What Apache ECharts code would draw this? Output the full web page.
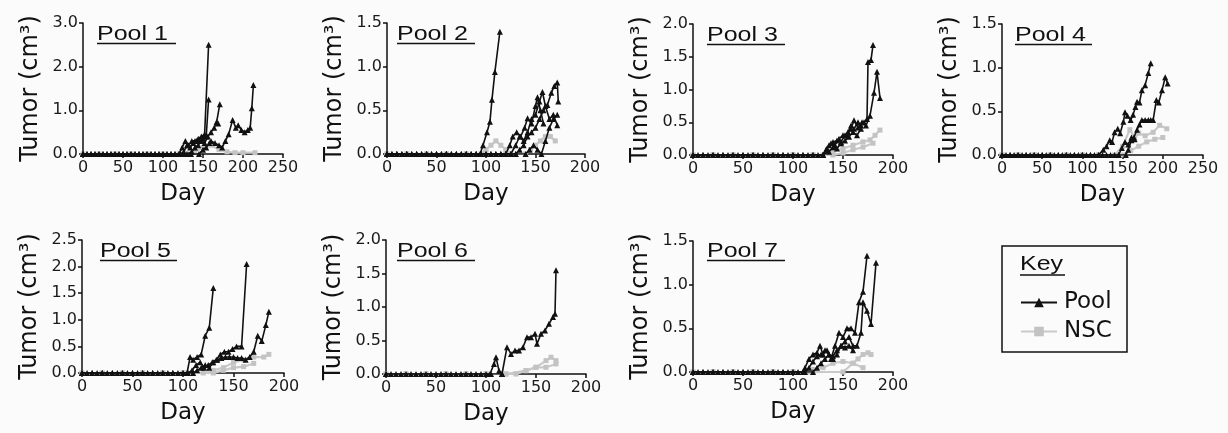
<!DOCTYPE html>
<html><head><meta charset="utf-8">
<script src="https://cdn.jsdelivr.net/npm/echarts@6/dist/echarts.min.js"></script>
<style>html,body{margin:0;padding:0;background:#fbfbfb}#c{width:1228px;height:433px}</style>
</head><body><div id="c"></div><script>
// ---- data (day, tumor volume cm3), one list per mouse ----
const titles = ['Pool 1','Pool 2','Pool 3','Pool 4','Pool 5','Pool 6','Pool 7'];
const xMaxes = [250,200,200,250,200,200,200];
const yMaxes = [3,1.5,2,1.5,2.5,2,1.5];
const ySteps = [1,0.5,0.5,0.5,0.5,0.5,0.5];

const p1Pool = [
 [[0,0],[10,0],[20,0],[30,0],[40,0],[50,0],[60,0],[70,0],[80,0],[90,0],[100,0],[110,0],[120,0],[124,0.15],[128,0.3],[132,0.2],[136,0.3],[140,0.3],[144,0.35],[148,0.4],[152,0.45],[157,2.5]],
 [[0,0],[5,0],[15,0],[25,0],[35,0],[45,0],[55,0],[65,0],[75,0],[85,0],[95,0],[105,0],[115,0],[122,0],[126,0.05],[130,0.2],[134,0.15],[138,0.25],[142,0.3],[146,0.3],[150,0.35],[154,0.4],[157,1.25]],
 [[0,0],[10,0],[20,0],[30,0],[40,0],[50,0],[60,0],[70,0],[80,0],[90,0],[100,0],[110,0],[120,0],[130,0],[136,0.05],[140,0.15],[144,0.2],[148,0.3],[152,0.25],[156,0.4],[160,0.5],[164,0.6],[167,0.73],[169,0.7],[171,1.14]],
 [[0,0],[5,0],[15,0],[25,0],[35,0],[45,0],[55,0],[65,0],[75,0],[85,0],[95,0],[105,0],[115,0],[125,0],[135,0],[145,0],[150,0.1],[154,0.15],[158,0.25],[160,0.3],[165,0.25],[170,0.2],[174,0.15],[178,0.3],[182,0.45],[187,0.78],[191,0.6],[194,0.66],[198,0.55],[202,0.5],[206,0.55],[209,0.6],[211,1.05],[213,1.58]]
];
const p1NSC = [
 [[0,0],[20,0],[40,0],[60,0],[80,0],[100,0],[120,0],[130,0],[140,0.05],[150,0.15],[160,0.2],[170,0.1],[180,0.05],[190,0.03],[200,0.03],[215,0.03]]
];

const p2Pool = [
 [[0,0],[10,0],[20,0],[30,0],[40,0],[50,0],[60,0],[70,0],[80,0],[90,0],[94,0],[97,0.1],[101,0.25],[104,0.37],[106,0.62],[109,0.94],[114,1.4]],
 [[0,0],[5,0],[15,0],[25,0],[35,0],[45,0],[55,0],[65,0],[75,0],[85,0],[95,0],[105,0],[115,0],[120,0],[124,0.1],[127,0.2],[131,0.25],[135,0.2],[139,0.3],[142,0.41],[146,0.35],[150,0.55],[152,0.65],[155,0.5],[158,0.35]],
 [[0,0],[10,0],[20,0],[30,0],[40,0],[50,0],[60,0],[70,0],[80,0],[90,0],[100,0],[110,0],[120,0],[125,0],[130,0.1],[134,0.2],[138,0.15],[142,0.25],[146,0.4],[150,0.45],[154,0.6],[157,0.71],[160,0.55],[164,0.4],[168,0.45],[172,0.33]],
 [[0,0],[5,0],[15,0],[25,0],[35,0],[45,0],[55,0],[65,0],[75,0],[85,0],[95,0],[105,0],[115,0],[125,0],[130,0],[134,0.05],[138,0.1],[142,0.2],[146,0.25],[150,0.3],[154,0.4],[158,0.5],[162,0.56],[166,0.7],[169,0.78],[172,0.82],[173,0.6]],
 [[0,0],[10,0],[20,0],[30,0],[40,0],[50,0],[60,0],[70,0],[80,0],[90,0],[100,0],[110,0],[120,0],[130,0],[140,0],[144,0.05],[148,0.1],[152,0.05],[156,0],[160,0.15],[164,0.3],[168,0.4],[172,0.45]]
];
const p2NSC = [
 [[0,0],[20,0],[40,0],[60,0],[80,0],[95,0],[100,0.05],[105,0.1],[110,0.15],[115,0.1],[120,0.05],[125,0]],
 [[0,0],[20,0],[40,0],[60,0],[80,0],[100,0],[120,0],[140,0],[145,0.05],[150,0.1],[155,0.15],[160,0.2],[165,0.2],[170,0.15]]
];

const p3Pool = [
 [[0,0],[10,0],[20,0],[30,0],[40,0],[50,0],[60,0],[70,0],[80,0],[90,0],[100,0],[110,0],[120,0],[130,0],[133,0.08],[136,0.15],[140,0.2],[144,0.22],[148,0.2],[152,0.3],[155,0.35],[158,0.45],[161,0.4],[165,0.5],[168,0.45],[171,0.5],[174,0.55],[175,1.42],[178,1.45],[180,1.68]],
 [[0,0],[5,0],[15,0],[25,0],[35,0],[45,0],[55,0],[65,0],[75,0],[85,0],[95,0],[105,0],[115,0],[125,0],[130,0],[134,0.1],[138,0.18],[142,0.15],[146,0.25],[150,0.3],[154,0.3],[158,0.4],[161,0.53],[165,0.42],[169,0.5],[173,0.45],[177,0.6],[181,0.95],[184,1.27],[187,0.87]],
 [[0,0],[10,0],[20,0],[30,0],[40,0],[50,0],[60,0],[70,0],[80,0],[90,0],[100,0],[110,0],[120,0],[130,0],[136,0.05],[140,0.12],[144,0.1],[148,0.18],[152,0.22],[156,0.28],[160,0.35],[164,0.3],[168,0.4]]
];
const p3NSC = [
 [[0,0],[20,0],[40,0],[60,0],[80,0],[100,0],[120,0],[130,0],[140,0.05],[150,0.1],[160,0.15],[170,0.2],[177,0.23],[182,0.3],[187,0.38]],
 [[0,0],[20,0],[40,0],[60,0],[80,0],[100,0],[120,0],[140,0],[150,0.03],[160,0.08],[170,0.12],[180,0.18]]
];

const p4Pool = [
 [[0,0],[10,0],[20,0],[30,0],[40,0],[50,0],[60,0],[70,0],[80,0],[90,0],[100,0],[110,0],[120,0],[126,0.06],[130,0.1],[134,0.17],[137,0.15],[140,0.26],[144,0.3],[147,0.25],[151,0.38],[153,0.49],[156,0.45],[160,0.4],[163,0.46],[166,0.55],[168,0.61],[171,0.6],[174,0.74],[178,0.8],[182,0.94],[185,1.05]],
 [[0,0],[5,0],[15,0],[25,0],[35,0],[45,0],[55,0],[65,0],[75,0],[85,0],[95,0],[105,0],[115,0],[125,0],[135,0],[145,0],[154,0],[157,0.06],[161,0.17],[164,0.2],[168,0.29],[171,0.35],[174,0.4],[178,0.4],[182,0.4],[185,0.4],[188,0.4],[192,0.63],[195,0.6],[199,0.74],[203,0.89],[206,0.82]],
 [[0,0],[10,0],[20,0],[30,0],[40,0],[50,0],[60,0],[70,0],[80,0],[90,0],[100,0],[110,0],[120,0],[130,0],[140,0],[145,0],[149,0.08],[153,0.15],[157,0.12],[161,0.2],[165,0.18]]
];
const p4NSC = [
 [[0,0],[20,0],[40,0],[60,0],[80,0],[100,0],[120,0],[140,0],[150,0.1],[159,0.29],[165,0.2],[170,0.25],[178,0.22],[188,0.26],[196,0.34],[205,0.3]],
 [[0,0],[20,0],[40,0],[60,0],[80,0],[100,0],[120,0],[150,0],[160,0.05],[170,0.1],[180,0.15],[190,0.18],[200,0.2]]
];

const p5Pool = [
 [[0,0],[10,0],[20,0],[30,0],[40,0],[50,0],[60,0],[70,0],[80,0],[90,0],[100,0],[104,0],[107,0.3],[110,0.25],[114,0.3],[118,0.35],[122,0.7],[126,0.85],[130,1.6]],
 [[0,0],[5,0],[15,0],[25,0],[35,0],[45,0],[55,0],[65,0],[75,0],[85,0],[95,0],[105,0],[109,0.05],[113,0.15],[117,0.2],[121,0.1],[125,0.15],[129,0.2],[133,0.25],[137,0.35],[141,0.4],[145,0.4],[149,0.45],[153,0.5],[158,0.5],[163,2.05]],
 [[0,0],[10,0],[20,0],[30,0],[40,0],[50,0],[60,0],[70,0],[80,0],[90,0],[100,0],[110,0],[114,0.05],[118,0.1],[122,0.15],[126,0.1],[130,0.2],[134,0.25],[138,0.28],[142,0.3],[146,0.3],[150,0.3],[154,0.28],[158,0.28],[162,0.25],[166,0.3],[170,0.4],[174,0.7],[178,0.6],[182,0.9],[185,1.15]]
];
const p5NSC = [
 [[0,0],[20,0],[40,0],[60,0],[80,0],[100,0],[120,0],[130,0.05],[140,0.1],[150,0.2],[160,0.25],[170,0.3],[180,0.3],[185,0.35]],
 [[0,0],[20,0],[40,0],[60,0],[80,0],[100,0],[130,0],[140,0.05],[150,0.1],[160,0.12],[170,0.18]]
];

const p6Pool = [
 [[0,0],[10,0],[20,0],[30,0],[40,0],[50,0],[60,0],[70,0],[80,0],[90,0],[100,0],[104,0],[108,0.15],[110,0.25],[113,0.05],[116,0],[121,0.4],[125,0.3],[129,0.35],[133,0.35],[137,0.4],[141,0.55],[145,0.55],[149,0.6],[151,0.45],[155,0.6],[159,0.65],[163,0.75],[167,0.85],[169,0.9],[170,1.55]],
 [[0,0],[5,0],[15,0],[25,0],[35,0],[45,0],[55,0],[65,0],[75,0],[85,0],[95,0],[105,0],[116,0]]
];
const p6NSC = [
 [[0,0],[20,0],[40,0],[60,0],[80,0],[100,0],[120,0],[130,0],[140,0.05],[150,0.1],[160,0.2],[165,0.25],[170,0.2]],
 [[0,0],[20,0],[40,0],[60,0],[80,0],[100,0],[120,0],[140,0.05],[150,0.1],[160,0.1],[170,0.15]]
];

const p7Pool = [
 [[0,0],[10,0],[20,0],[30,0],[40,0],[50,0],[60,0],[70,0],[80,0],[90,0],[100,0],[110,0],[112,0.05],[116,0.15],[120,0.2],[124,0.22],[127,0.3],[130,0.2],[134,0.25],[138,0.15],[142,0.3],[146,0.45],[150,0.4],[154,0.5],[158,0.5],[162,0.45],[166,0.8],[170,0.92],[174,1.33]],
 [[0,0],[5,0],[15,0],[25,0],[35,0],[45,0],[55,0],[65,0],[75,0],[85,0],[95,0],[105,0],[112,0],[116,0.05],[120,0.12],[124,0.18],[128,0.2],[132,0.25],[136,0.2],[140,0.15],[144,0.2],[148,0.3],[152,0.35],[156,0.4],[160,0.3],[164,0.3],[168,0.45],[170,0.8],[174,0.7],[178,0.55],[183,1.25]],
 [[0,0],[10,0],[20,0],[30,0],[40,0],[50,0],[60,0],[70,0],[80,0],[90,0],[100,0],[110,0],[120,0],[124,0.05],[128,0.1],[132,0.15],[136,0.2],[140,0.18],[144,0.25],[148,0.3],[152,0.28],[156,0.3],[160,0.25]]
];
const p7NSC = [
 [[0,0],[20,0],[40,0],[60,0],[80,0],[100,0],[115,0],[120,0.03],[130,0.05],[140,0.1],[150,0.12],[160,0.1],[170,0.05]],
 [[0,0],[20,0],[40,0],[60,0],[80,0],[100,0],[120,0],[150,0],[160,0.1],[165,0.15],[170,0.2],[175,0.22],[178,0.2]]
];

const poolSets = [p1Pool,p2Pool,p3Pool,p4Pool,p5Pool,p6Pool,p7Pool];
const nscSets = [p1NSC,p2NSC,p3NSC,p4NSC,p5NSC,p6NSC,p7NSC];

// ---- layout ----
const gridBoxes = [
 {left:83,top:23,width:200,height:131},
 {left:387,top:23,width:198,height:131},
 {left:693,top:24,width:200,height:131},
 {left:1002,top:24,width:201,height:131},
 {left:82,top:240,width:202,height:133},
 {left:386,top:240,width:200,height:134},
 {left:693,top:241,width:200,height:131}
];
const titleSpots = [[97,34,79],[397,34,78],[707,35,78],[1015,35,77],[100,251,77],[397,251,78],[707,251,78]];

const INK = '#111';
const AX_FONT = 'DejaVu Sans';

const grid = gridBoxes.map(g => Object.assign({}, g));
const xAxis = xMaxes.map((mx, i) => ({
  type:'value', gridIndex:i, min:0, max:mx, interval:50,
  name:'Day', nameLocation:'middle', nameGap:29,
  nameTextStyle:{fontFamily:AX_FONT, fontSize:23, color:INK},
  axisLine:{show:true, onZero:false, lineStyle:{color:INK, width:1.5}},
  axisTick:{show:true, length:4, lineStyle:{color:INK, width:1.5}},
  axisLabel:{fontFamily:AX_FONT, fontSize:16, color:'#1a1a1a', margin:6},
  splitLine:{show:false}
}));
const yAxis = yMaxes.map((mx, i) => ({
  type:'value', gridIndex:i, min:0, max:mx, interval:ySteps[i],
  name:'Tumor (cm³)', nameLocation:'middle', nameGap:40, nameRotate:90,
  nameTextStyle:{fontFamily:AX_FONT, fontSize:24, color:INK},
  axisLine:{show:true, onZero:false, lineStyle:{color:INK, width:1.5}},
  axisTick:{show:true, length:4, lineStyle:{color:INK, width:1.5}},
  axisLabel:{fontFamily:AX_FONT, fontSize:16, color:'#1a1a1a', margin:5, formatter:v => v.toFixed(1)},
  splitLine:{show:false}
}));

const series = [];
nscSets.forEach((set, i) => set.forEach(m => series.push({
  type:'line', name:'NSC', xAxisIndex:i, yAxisIndex:i, data:m, z:2,
  symbol:'rect', symbolSize:5, showSymbol:true,
  lineStyle:{color:'#c9c9c9', width:2.2}, itemStyle:{color:'#c3c3c3'}
})));
poolSets.forEach((set, i) => set.forEach(m => series.push({
  type:'line', name:'Pool', xAxisIndex:i, yAxisIndex:i, data:m, z:3,
  symbol:'triangle', symbolSize:6, showSymbol:true,
  lineStyle:{color:INK, width:1.6}, itemStyle:{color:INK}
})));

const graphic = [];
titleSpots.forEach((s, i) => {
  graphic.push({type:'group', x:s[0], y:s[1], children:[
    {type:'text', scaleX:1.25, style:{text:titles[i], font:'20px "Liberation Sans"', fill:INK, verticalAlign:'middle', align:'left'}},
    {type:'line', shape:{x1:0, y1:9.5, x2:s[2], y2:9.5}, style:{stroke:INK, lineWidth:1.5}}
  ]});
});
graphic.push({type:'rect', shape:{x:1002, y:246, width:125, height:106}, style:{fill:'none', stroke:INK, lineWidth:1.5}});
graphic.push({type:'group', x:1020, y:264, children:[
  {type:'text', scaleX:1.25, style:{text:'Key', font:'20px "Liberation Sans"', fill:INK, verticalAlign:'middle', align:'left'}},
  {type:'line', shape:{x1:0, y1:11, x2:45, y2:11}, style:{stroke:INK, lineWidth:1.5}}
]});

const chart = echarts.init(document.getElementById('c'), null, {renderer:'canvas'});
chart.setOption({
  backgroundColor:'#fbfbfb',
  animation:false,
  grid, xAxis, yAxis, series, graphic,
  legend:{
    data:['Pool','NSC'], orient:'vertical', left:1015, top:286,
    itemWidth:36, itemHeight:12, itemGap:6, selectedMode:false,
    textStyle:{fontFamily:AX_FONT, fontSize:23, color:INK, padding:[0,0,0,2]}
  }
});
</script></body></html>
